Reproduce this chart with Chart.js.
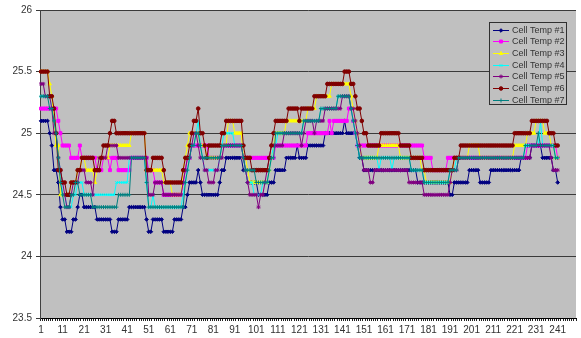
<!DOCTYPE html>
<html>
<head>
<meta charset="utf-8">
<script src="https://cdn.jsdelivr.net/npm/chart.js@4/dist/chart.umd.min.js"></script>
<style>
  html, body { margin: 0; padding: 0; background: #ffffff; overflow: hidden; }
  #wrap { width: 581px; height: 338px; }
</style>
</head>
<body>
<div id="wrap"><canvas id="c" width="581" height="338"></canvas></div>
<script>
// Sample numbers along the x axis (one per reading)
const categories = Array.from({ length: 249 }, (_, i) => String(i + 1));

const seriesNames = ['Cell Temp #1', 'Cell Temp #2', 'Cell Temp #3', 'Cell Temp #4',
                     'Cell Temp #5', 'Cell Temp #6', 'Cell Temp #7'];

const cellTemp1 = [
  25.1,25.1,25.1,25.1,25.0,24.9,24.7,24.7,24.6,24.4,
  24.3,24.3,24.2,24.2,24.2,24.3,24.3,24.4,24.5,24.5,
  24.4,24.4,24.4,24.4,24.4,24.4,24.3,24.3,24.3,24.3,
  24.3,24.3,24.3,24.2,24.2,24.2,24.3,24.3,24.3,24.3,
  24.3,24.4,24.4,24.4,24.4,24.4,24.4,24.4,24.4,24.3,
  24.2,24.2,24.3,24.3,24.3,24.3,24.3,24.2,24.2,24.2,
  24.2,24.2,24.3,24.3,24.3,24.3,24.4,24.4,24.5,24.6,
  24.6,24.6,24.6,24.7,24.6,24.5,24.5,24.5,24.5,24.5,
  24.5,24.5,24.5,24.6,24.7,24.7,24.8,24.8,24.8,24.8,
  24.8,24.8,24.8,24.8,24.7,24.7,24.6,24.6,24.6,24.6,
  24.6,24.5,24.5,24.5,24.5,24.5,24.6,24.6,24.6,24.7,
  24.7,24.7,24.7,24.7,24.8,24.8,24.8,24.8,24.8,24.9,
  24.8,24.8,24.8,24.8,24.9,24.9,24.9,24.9,24.9,24.9,
  24.9,24.9,25.0,25.0,25.0,25.0,25.0,25.0,25.0,25.0,
  25.0,25.1,25.0,25.0,25.0,25.0,25.0,24.9,24.8,24.8,
  24.7,24.7,24.7,24.7,24.7,24.7,24.7,24.7,24.7,24.7,
  24.7,24.7,24.7,24.7,24.7,24.7,24.7,24.7,24.7,24.7,
  24.7,24.7,24.7,24.7,24.7,24.6,24.6,24.6,24.6,24.6,
  24.6,24.6,24.6,24.6,24.6,24.6,24.6,24.6,24.6,24.6,
  24.5,24.5,24.6,24.6,24.6,24.6,24.6,24.6,24.6,24.7,
  24.7,24.7,24.7,24.7,24.6,24.6,24.6,24.6,24.6,24.7,
  24.7,24.7,24.7,24.7,24.7,24.7,24.7,24.7,24.7,24.7,
  24.7,24.7,24.7,24.8,24.8,24.8,24.8,24.8,24.9,24.9,
  24.9,24.9,24.9,24.8,24.8,24.8,24.8,24.8,24.7,24.7,
  24.6
];

const cellTemp2 = [
  25.2,25.2,25.2,25.2,25.2,25.2,25.2,25.2,25.1,25.0,
  24.9,24.9,24.9,24.9,24.8,24.8,24.8,24.8,24.9,24.8,
  24.8,24.8,24.8,24.8,24.8,24.8,24.7,24.7,24.7,24.8,
  24.8,24.8,24.7,24.8,24.8,24.8,24.7,24.7,24.7,24.7,
  24.7,24.7,24.8,24.8,24.8,24.8,24.8,24.8,24.8,24.8,
  24.7,24.7,24.7,24.6,24.6,24.6,24.6,24.5,24.5,24.5,
  24.5,24.5,24.5,24.5,24.5,24.5,24.6,24.7,24.8,24.8,
  24.9,24.9,24.9,24.9,24.9,24.9,24.9,24.9,24.8,24.8,
  24.8,24.8,24.8,24.8,24.9,24.9,24.9,24.9,24.9,24.9,
  24.9,24.9,24.9,24.9,24.8,24.8,24.8,24.8,24.8,24.8,
  24.8,24.8,24.8,24.8,24.8,24.8,24.8,24.8,24.8,24.9,
  24.9,24.9,24.9,24.9,24.9,24.9,24.9,24.9,24.9,24.9,
  24.9,24.9,24.9,24.9,25.0,25.0,25.0,25.0,25.0,25.0,
  25.0,25.0,25.0,25.0,25.1,25.0,25.1,25.1,25.1,25.1,
  25.1,25.1,25.1,25.2,25.2,25.1,25.0,24.9,24.9,24.9,
  24.9,24.9,24.9,24.9,24.9,24.9,24.9,24.9,24.9,24.9,
  24.9,24.9,24.9,24.9,24.9,24.9,24.9,24.9,24.9,24.9,
  24.9,24.9,24.9,24.9,24.9,24.9,24.9,24.9,24.8,24.8,
  24.8,24.8,24.7,24.7,24.7,24.7,24.7,24.7,24.7,24.8,
  24.8,24.8,24.8,24.8,24.8,24.8,24.8,24.8,24.8,24.8,
  24.8,24.8,24.8,24.8,24.8,24.8,24.8,24.8,24.8,24.8,
  24.8,24.8,24.8,24.8,24.8,24.8,24.8,24.8,24.8,24.8,
  24.8,24.8,24.8,24.8,24.8,24.8,24.9,24.9,24.9,24.9,
  24.9,24.9,24.9,24.9,24.9,24.9,24.9,24.9,24.9,24.9,
  24.8
];

const cellTemp3 = [
  25.5,25.5,25.5,25.5,25.4,25.3,25.1,24.9,24.9,24.5,
  24.5,24.5,24.5,24.5,24.6,24.6,24.6,24.7,24.7,24.8,
  24.8,24.7,24.7,24.7,24.7,24.6,24.7,24.8,24.8,24.8,
  24.8,24.8,24.9,24.9,24.9,24.9,24.9,24.9,24.9,24.9,
  24.9,24.9,25.0,25.0,25.0,25.0,25.0,25.0,25.0,24.7,
  24.7,24.7,24.7,24.7,24.7,24.7,24.7,24.6,24.6,24.6,
  24.6,24.5,24.5,24.5,24.5,24.5,24.7,24.8,24.9,25.0,
  25.0,25.0,25.0,25.0,24.9,24.9,24.9,24.8,24.8,24.8,
  24.8,24.8,24.8,24.8,24.9,24.9,24.9,25.1,25.1,25.1,
  25.0,25.0,25.0,25.0,24.8,24.8,24.7,24.6,24.6,24.6,
  24.6,24.6,24.6,24.6,24.6,24.6,24.7,24.8,24.9,25.0,
  25.0,25.0,25.0,25.0,25.1,25.1,25.1,25.1,25.1,25.1,
  25.1,25.1,25.1,25.1,25.2,25.2,25.2,25.2,25.3,25.3,
  25.3,25.3,25.3,25.3,25.3,25.4,25.4,25.4,25.4,25.4,
  25.4,25.4,25.4,25.4,25.3,25.2,25.1,25.0,24.9,24.8,
  24.8,24.8,24.8,24.8,24.8,24.8,24.8,24.9,24.9,24.9,
  24.9,24.9,24.9,24.9,24.9,24.9,24.9,24.8,24.8,24.8,
  24.8,24.8,24.8,24.8,24.8,24.8,24.8,24.7,24.7,24.6,
  24.6,24.6,24.6,24.6,24.6,24.6,24.6,24.6,24.6,24.6,
  24.6,24.7,24.8,24.8,24.8,24.8,24.8,24.8,24.8,24.9,
  24.9,24.9,24.9,24.9,24.8,24.8,24.8,24.8,24.8,24.8,
  24.8,24.8,24.8,24.8,24.8,24.8,24.8,24.8,24.8,24.8,
  24.9,24.9,24.9,24.9,24.9,24.9,25.0,25.0,25.0,25.0,
  25.1,25.1,25.1,25.1,25.0,25.0,25.0,24.9,24.9,24.8,
  24.8
];

const cellTemp4 = [
  25.3,25.3,25.3,25.3,25.3,25.2,25.1,25.0,24.8,24.7,
  24.5,24.5,24.4,24.4,24.4,24.5,24.5,24.6,24.6,24.6,
  24.5,24.5,24.5,24.5,24.5,24.5,24.5,24.5,24.5,24.5,
  24.5,24.5,24.5,24.5,24.5,24.6,24.6,24.6,24.6,24.6,
  24.6,24.8,24.8,24.8,24.8,24.8,24.8,24.8,24.8,24.6,
  24.4,24.4,24.5,24.4,24.4,24.4,24.4,24.4,24.4,24.4,
  24.4,24.4,24.4,24.4,24.4,24.4,24.5,24.6,24.7,24.8,
  24.9,24.9,25.0,25.1,24.9,24.8,24.7,24.7,24.7,24.7,
  24.7,24.7,24.7,24.8,24.9,25.0,25.0,25.0,25.0,25.0,
  24.9,24.9,24.9,24.9,24.8,24.7,24.6,24.6,24.6,24.5,
  24.5,24.5,24.5,24.6,24.6,24.6,24.7,24.8,24.9,24.9,
  25.0,25.0,25.0,25.0,25.0,25.0,25.0,25.0,25.0,25.0,
  25.0,25.0,25.1,25.1,25.1,25.1,25.1,25.1,25.1,25.1,
  25.2,25.2,25.2,25.2,25.2,25.2,25.2,25.2,25.3,25.3,
  25.3,25.3,25.3,25.3,25.2,25.1,25.0,24.9,24.8,24.8,
  24.8,24.8,24.8,24.8,24.8,24.8,24.8,24.7,24.8,24.8,
  24.8,24.8,24.8,24.7,24.8,24.8,24.8,24.8,24.8,24.8,
  24.8,24.8,24.7,24.7,24.7,24.7,24.7,24.7,24.6,24.6,
  24.6,24.6,24.6,24.6,24.6,24.6,24.6,24.6,24.6,24.6,
  24.7,24.7,24.7,24.8,24.8,24.8,24.8,24.8,24.8,24.8,
  24.8,24.8,24.8,24.8,24.8,24.8,24.8,24.8,24.8,24.8,
  24.8,24.8,24.8,24.8,24.8,24.8,24.8,24.8,24.8,24.8,
  24.8,24.8,24.8,24.8,24.8,24.9,24.9,24.9,24.9,24.9,
  24.9,24.9,25.1,24.9,24.9,24.9,24.9,24.9,24.9,24.8,
  24.8
];

const cellTemp5 = [
  25.4,25.4,25.3,25.3,25.3,25.2,25.0,25.0,24.8,24.7,
  24.6,24.5,24.4,24.4,24.5,24.6,24.6,24.6,24.7,24.7,
  24.7,24.6,24.6,24.6,24.5,24.7,24.7,24.8,24.8,24.8,
  24.8,24.9,24.9,24.9,24.9,24.9,24.8,24.8,24.8,24.8,
  24.8,24.8,24.8,24.8,24.8,24.8,24.8,24.8,24.8,24.8,
  24.5,24.5,24.5,24.6,24.6,24.6,24.6,24.5,24.5,24.5,
  24.5,24.5,24.5,24.5,24.5,24.5,24.6,24.7,24.8,24.8,
  24.9,25.0,25.0,24.9,24.8,24.8,24.7,24.7,24.6,24.6,
  24.6,24.7,24.7,24.8,24.8,24.9,24.9,24.9,24.9,24.9,
  24.9,24.9,24.9,24.9,24.8,24.7,24.6,24.5,24.5,24.5,
  24.5,24.4,24.5,24.5,24.6,24.7,24.8,24.9,24.9,24.9,
  24.9,24.9,24.9,25.0,25.0,25.0,25.0,25.0,25.0,25.0,
  25.0,24.9,25.0,25.1,25.1,25.1,25.1,25.0,25.1,25.1,
  25.1,25.1,25.2,25.2,25.2,25.2,25.2,25.2,25.2,25.2,
  25.3,25.3,25.3,25.3,25.2,25.2,25.1,25.0,24.9,24.8,
  24.7,24.7,24.7,24.6,24.6,24.7,24.7,24.7,24.7,24.7,
  24.7,24.7,24.7,24.7,24.7,24.7,24.7,24.7,24.7,24.7,
  24.7,24.6,24.6,24.6,24.6,24.6,24.6,24.6,24.5,24.5,
  24.5,24.5,24.5,24.5,24.5,24.5,24.5,24.5,24.5,24.5,
  24.6,24.7,24.7,24.7,24.8,24.8,24.8,24.8,24.8,24.8,
  24.8,24.8,24.8,24.8,24.8,24.8,24.8,24.8,24.8,24.8,
  24.8,24.8,24.8,24.8,24.8,24.8,24.8,24.8,24.8,24.8,
  24.8,24.8,24.8,24.8,24.8,24.8,24.8,24.8,24.9,24.9,
  24.9,24.9,24.9,24.9,24.9,24.9,24.9,24.8,24.7,24.7,
  24.7
];

const cellTemp6 = [
  25.5,25.5,25.5,25.5,25.3,25.3,25.2,25.0,24.7,24.7,
  24.6,24.6,24.5,24.5,24.6,24.6,24.6,24.7,24.7,24.8,
  24.8,24.8,24.8,24.8,24.8,24.7,24.7,24.7,24.8,24.9,
  24.9,24.9,25.0,25.1,25.1,25.0,25.0,25.0,25.0,25.0,
  25.0,25.0,25.0,25.0,25.0,25.0,25.0,25.0,25.0,24.7,
  24.7,24.7,24.8,24.8,24.8,24.8,24.8,24.7,24.6,24.6,
  24.6,24.6,24.6,24.6,24.6,24.6,24.7,24.8,24.8,24.9,
  25.0,25.1,25.1,25.2,25.0,25.0,24.9,24.8,24.9,24.9,
  24.9,24.9,24.9,24.9,25.0,25.0,25.1,25.1,25.1,25.1,
  25.1,25.1,25.1,25.1,24.9,24.8,24.8,24.8,24.7,24.7,
  24.7,24.7,24.7,24.7,24.7,24.7,24.8,24.9,25.0,25.1,
  25.1,25.1,25.1,25.1,25.1,25.2,25.2,25.2,25.2,25.2,
  25.1,25.2,25.2,25.2,25.2,25.2,25.2,25.3,25.3,25.3,
  25.3,25.3,25.3,25.4,25.4,25.4,25.4,25.4,25.4,25.4,
  25.4,25.5,25.5,25.5,25.4,25.4,25.3,25.2,25.2,25.1,
  25.0,25.0,24.9,24.9,24.9,24.9,24.9,24.9,25.0,25.0,
  25.0,25.0,25.0,25.0,25.0,25.0,25.0,24.9,24.9,24.9,
  24.9,24.9,24.8,24.8,24.8,24.8,24.8,24.8,24.7,24.7,
  24.7,24.7,24.7,24.7,24.7,24.7,24.7,24.7,24.7,24.7,
  24.7,24.7,24.8,24.8,24.8,24.9,24.9,24.9,24.9,24.9,
  24.9,24.9,24.9,24.9,24.9,24.9,24.9,24.9,24.9,24.9,
  24.9,24.9,24.9,24.9,24.9,24.9,24.9,24.9,24.9,24.9,
  25.0,25.0,25.0,25.0,25.0,25.0,25.0,25.0,25.1,25.1,
  25.1,25.1,25.1,25.1,25.1,25.1,25.0,25.0,25.0,24.9,
  24.9
];

const cellTemp7 = [
  25.3,25.3,25.3,25.3,25.2,25.2,25.1,25.0,24.8,24.6,
  24.5,24.4,24.4,24.4,24.5,24.5,24.6,24.6,24.5,24.5,
  24.5,24.5,24.5,24.5,24.4,24.4,24.4,24.4,24.4,24.4,
  24.4,24.4,24.4,24.4,24.4,24.4,24.5,24.5,24.5,24.5,
  24.5,24.5,24.8,24.8,24.8,24.8,24.8,24.8,24.8,24.6,
  24.4,24.4,24.4,24.4,24.4,24.4,24.4,24.4,24.4,24.4,
  24.4,24.4,24.4,24.4,24.4,24.4,24.4,24.6,24.7,24.8,
  24.9,24.9,25.0,25.0,24.9,24.8,24.8,24.8,24.8,24.8,
  24.8,24.8,24.8,24.8,24.9,24.9,24.9,24.9,24.9,24.9,
  24.9,24.9,24.9,24.9,24.8,24.7,24.7,24.7,24.7,24.7,
  24.6,24.6,24.6,24.6,24.6,24.6,24.7,24.8,24.8,25.0,
  25.0,25.0,25.0,25.0,25.0,25.0,25.0,25.0,25.0,25.0,
  25.0,25.0,25.1,25.1,25.1,25.1,25.1,25.1,25.1,25.1,
  25.2,25.2,25.2,25.2,25.2,25.2,25.2,25.2,25.3,25.3,
  25.3,25.3,25.3,25.3,25.2,25.1,25.0,24.9,24.8,24.8,
  24.8,24.8,24.8,24.8,24.8,24.8,24.8,24.8,24.8,24.8,
  24.8,24.8,24.8,24.8,24.8,24.8,24.8,24.8,24.8,24.8,
  24.8,24.8,24.7,24.7,24.7,24.7,24.7,24.7,24.6,24.6,
  24.6,24.6,24.6,24.6,24.6,24.6,24.6,24.6,24.6,24.6,
  24.7,24.7,24.7,24.7,24.8,24.8,24.8,24.8,24.8,24.8,
  24.8,24.8,24.8,24.8,24.8,24.8,24.8,24.8,24.8,24.8,
  24.8,24.8,24.8,24.8,24.8,24.8,24.8,24.8,24.8,24.8,
  24.8,24.8,24.8,24.8,24.8,24.9,24.9,24.9,24.9,24.9,
  24.9,25.0,24.9,24.9,24.9,24.9,24.9,24.9,24.9,24.8,
  24.8
];

const seriesValues = [cellTemp1, cellTemp2, cellTemp3, cellTemp4, cellTemp5, cellTemp6, cellTemp7];
const seriesColors = ['#000080', '#ff00ff', '#ffff00', '#00ffff', '#800080', '#800000', '#008080'];
const seriesMarkers = ['rectRot', 'rect', 'triangle', 'crossRot', 'star', 'circle', 'cross'];
const seriesMarkerSize = [1.8, 2.1, 2, 1.8, 2, 1.8, 2];

const yTicks = { min: 23.5, max: 26, step: 0.5 };

const PLOT_BG = '#c0c0c0';
const GRID = '#3a3a3a';
const TEXT = '#333333';

// Grey plot area behind the lines
const plotBackground = {
  id: 'plotBackground',
  beforeDraw(chart) {
    const { ctx, chartArea: a } = chart;
    ctx.save();
    ctx.fillStyle = PLOT_BG;
    ctx.fillRect(a.left, a.top, a.right - a.left, a.bottom - a.top);
    ctx.restore();
  }
};

// Boxed legend in the upper right corner of the plot
const boxLegend = {
  id: 'boxLegend',
  afterDraw(chart) {
    const { ctx } = chart;
    const x = 489.5, y = 22.5, w = 77, h = 82;
    const rowH = 11.67, firstY = 29.7;
    ctx.save();
    ctx.fillStyle = PLOT_BG;
    ctx.fillRect(x, y, w, h);
    ctx.strokeStyle = '#303030';
    ctx.lineWidth = 1;
    ctx.strokeRect(x, y, w, h);
    ctx.font = '9px "Liberation Sans", Arial, sans-serif';
    ctx.textBaseline = 'middle';
    chart.data.datasets.forEach((ds, i) => {
      const cy = Math.round(firstY + i * rowH) + 0.5;
      ctx.strokeStyle = ds.borderColor;
      ctx.lineWidth = 1;
      ctx.beginPath();
      ctx.moveTo(493, cy);
      ctx.lineTo(509, cy);
      ctx.stroke();
      ctx.fillStyle = ds.pointBackgroundColor;
      ctx.strokeStyle = ds.pointBorderColor;
      Chart.helpers.drawPoint(ctx, {
        pointStyle: ds.pointStyle, radius: ds.pointRadius, rotation: 0, borderWidth: 1
      }, 501, cy);
      ctx.fillStyle = TEXT;
      ctx.fillText(ds.label, 512, cy);
    });
    ctx.restore();
  }
};

const datasets = seriesNames.map((name, i) => ({
  label: name,
  data: seriesValues[i],
  borderColor: seriesColors[i],
  backgroundColor: seriesColors[i],
  pointBackgroundColor: seriesColors[i],
  pointBorderColor: seriesColors[i],
  pointStyle: seriesMarkers[i],
  pointRadius: seriesMarkerSize[i],
  pointBorderWidth: 1,
  borderWidth: 1,
  tension: 0,
  fill: false,
  order: seriesNames.length - i
}));

new Chart(document.getElementById('c'), {
  type: 'line',
  data: { labels: categories, datasets },
  plugins: [plotBackground, boxLegend],
  options: {
    responsive: false,
    animation: false,
    devicePixelRatio: 1,
    layout: { padding: { top: 8, right: 0, left: 0, bottom: 0 } },
    plugins: { legend: { display: false }, tooltip: { enabled: false } },
    scales: {
      x: {
        type: 'category',
        offset: true,
        grid: {
          display: true,
          drawOnChartArea: false,
          drawTicks: true,
          tickLength: 3,
          color: '#202020',
          offset: true
        },
        border: { display: true, color: '#000000', width: 1 },
        ticks: {
          autoSkip: false,
          maxRotation: 0,
          minRotation: 0,
          padding: 3,
          color: TEXT,
          font: { family: '"Liberation Sans", Arial, sans-serif', size: 10 },
          callback(value, index) {
            return index % 10 === 0 ? categories[index] : '';
          }
        },
        afterFit(scale) { scale.height = 20; }
      },
      y: {
        min: yTicks.min,
        max: yTicks.max,
        grid: { color: GRID, lineWidth: 1, tickLength: 4, drawTicks: true },
        border: { display: true, color: '#404040', width: 1 },
        ticks: {
          stepSize: yTicks.step,
          padding: 4,
          color: TEXT,
          font: { family: '"Liberation Sans", Arial, sans-serif', size: 10 },
          callback(v) { return String(v); }
        },
        afterFit(scale) { scale.width = 40; }
      }
    }
  }
});
</script>
</body>
</html>
